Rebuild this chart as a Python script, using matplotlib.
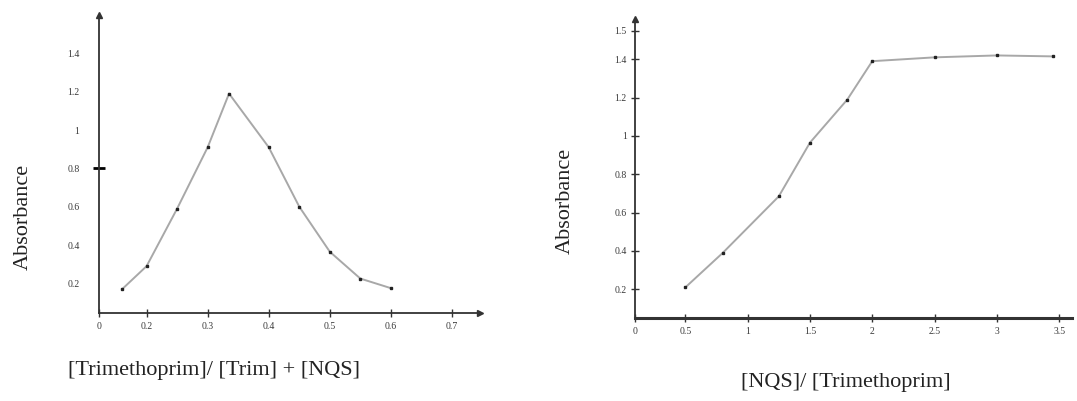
import matplotlib.pyplot as plt

# Left panel: continuous variation (Job's) plot
job_ratio = [0.16, 0.2, 0.25, 0.3, 0.335, 0.4, 0.45, 0.5, 0.55, 0.6]
job_abs = [0.17, 0.29, 0.59, 0.91, 1.19, 0.91, 0.60, 0.365, 0.225, 0.175]
job_xticks = [0.122, 0.2, 0.3, 0.4, 0.5, 0.6, 0.7]
job_xlabels = ["0", "0.2", "0.3", "0.4", "0.5", "0.6", "0.7"]
job_yticks = [0.2, 0.4, 0.6, 0.8, 1.0, 1.2, 1.4]
job_ylabels = ["0.2", "0.4", "0.6", "0.8", "1", "1.2", "1.4"]

# Right panel: mole ratio plot
mole_ratio = [0.5, 0.8, 1.25, 1.5, 1.8, 2.0, 2.5, 3.0, 3.45]
mole_abs = [0.21, 0.39, 0.685, 0.965, 1.19, 1.39, 1.41, 1.42, 1.415]
mole_xticks = [0.096, 0.5, 1.0, 1.5, 2.0, 2.5, 3.0, 3.5]
mole_xlabels = ["0", "0.5", "1", "1.5", "2", "2.5", "3", "3.5"]
mole_yticks = [0.2, 0.4, 0.6, 0.8, 1.0, 1.2, 1.4, 1.55]
mole_ylabels = ["0.2", "0.4", "0.6", "0.8", "1", "1.2", "1.4", "1.5"]

SERIF = "Liberation Serif"
LINE_GRAY = "#a8a8a8"
AXIS_COLOR = "#333333"

fig = plt.figure(figsize=(10.77, 4.01), dpi=100)
ax1 = fig.add_axes([0.0919, 0.2202, 0.4457 - 0.0919, 0.9626 - 0.2202])
ax2 = fig.add_axes([0.5896, 0.2077, 0.995 - 0.5896, 0.9526 - 0.2077])


def style_axes(ax, xticks, xlabels, yticks, ylabels, bottom_lw):
    for side in ("top", "right"):
        ax.spines[side].set_visible(False)
    ax.spines["left"].set_linewidth(1.3)
    ax.spines["bottom"].set_linewidth(bottom_lw)
    ax.spines["left"].set_color(AXIS_COLOR)
    ax.spines["bottom"].set_color(AXIS_COLOR)
    ax.set_xticks(xticks)
    ax.set_xticklabels(xlabels)
    ax.set_yticks(yticks)
    ax.set_yticklabels(ylabels)
    for lab in ax.get_xticklabels() + ax.get_yticklabels():
        lab.set_fontfamily(SERIF)
        lab.set_fontsize(7)
        lab.set_color("#3a3a3a")
    ax.tick_params(axis="x", direction="inout", length=6, width=1.0,
                   color=AXIS_COLOR, pad=4)
    # axis arrows
    ax.plot(0, 1, marker="^", color=AXIS_COLOR, markersize=4,
            transform=ax.transAxes, clip_on=False)


style_axes(ax1, job_xticks, job_xlabels, job_yticks, job_ylabels, 1.3)
ax1.tick_params(axis="y", length=0, pad=14)
tick08 = ax1.yaxis.get_major_ticks()[3]
tick08.tick1line.set_marker("_")
tick08.tick1line.set_markersize(9)
tick08.tick1line.set_markeredgewidth(2)
ax1.plot(1, 0, marker=">", color=AXIS_COLOR, markersize=4,
         transform=ax1.transAxes, clip_on=False)
ax1.set_xlim(0.122, 0.746)
ax1.set_ylim(0.047, 1.6)
ax1.plot(job_ratio, job_abs, color=LINE_GRAY, linewidth=1.4, zorder=2)
ax1.plot(job_ratio, job_abs, linestyle="none", marker="s", markersize=2,
         color="#222222", zorder=3)

style_axes(ax2, mole_xticks, mole_xlabels, mole_yticks, mole_ylabels, 2.2)
ax2.tick_params(axis="y", direction="inout", length=6, width=1.0,
                color=AXIS_COLOR, pad=3)
ax2.set_xlim(0.096, 3.6)
ax2.set_ylim(0.052, 1.61)
ax2.plot(mole_ratio, mole_abs, color=LINE_GRAY, linewidth=1.4, zorder=2)
ax2.plot(mole_ratio, mole_abs, linestyle="none", marker="s", markersize=2,
         color="#222222", zorder=3)

# axis titles placed as in the scanned figure
fig.text(0.022, 0.46, "Absorbance", rotation=90, ha="center", va="center",
         fontfamily=SERIF, fontsize=16, color="#222222")
fig.text(0.525, 0.50, "Absorbance", rotation=90, ha="center", va="center",
         fontfamily=SERIF, fontsize=16, color="#222222")
fig.text(0.199, 0.077, "[Trimethoprim]/ [Trim] + [NQS]", ha="center",
         va="center", fontfamily=SERIF, fontsize=16, color="#222222")
fig.text(0.785, 0.047, "[NQS]/ [Trimethoprim]", ha="center", va="center",
         fontfamily=SERIF, fontsize=16, color="#222222")

fig.savefig("out.png", dpi=100)
